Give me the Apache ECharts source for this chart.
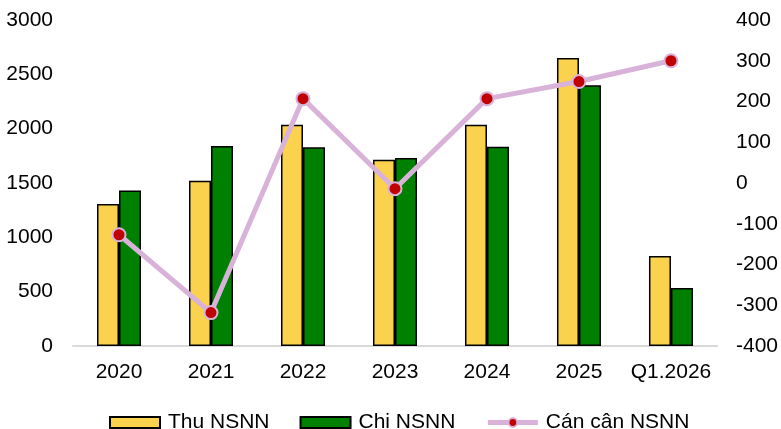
<!DOCTYPE html>
<html>
<head>
<meta charset="utf-8">
<script src="https://cdn.jsdelivr.net/npm/echarts@6/dist/echarts.min.js"></script>
<style>
  html, body { margin: 0; padding: 0; background: #fff; }
  #main { width: 781px; height: 429px; }
</style>
</head>
<body>
<div id="main"></div>
<script>
const categories = ['2020', '2021', '2022', '2023', '2024', '2025', 'Q1.2026'];
const thuNSNN = [1307, 1520, 2035, 1715, 2035, 2650, 828];
const chiNSNN = [1432, 1840, 1830, 1730, 1834, 2400, 534];
const canCan = [-127, -318, 207, -14, 207, 249, 300];

const font = 'Liberation Sans, Arial, sans-serif';
const plain = v => String(v);
const chart = echarts.init(document.getElementById('main'));
const option = {
  animation: false,
  textStyle: { fontFamily: font },
  grid: { left: 73, right: 63, top: 20, bottom: 83 },
  legend: {
    top: 407,
    left: 104,
    itemGap: 30,
    itemWidth: 50,
    itemHeight: 11,
    textStyle: { fontSize: 21, color: '#000', fontFamily: font, padding: [0, 0, 0, 3] },
    data: [
      { name: 'Thu NSNN', icon: 'rect' },
      { name: 'Chi NSNN', icon: 'rect' },
      { name: 'Cán cân NSNN', lineStyle: { width: 5, color: '#d8b2d8' } }
    ]
  },
  xAxis: {
    type: 'category',
    data: categories,
    axisLine: { lineStyle: { color: '#d9d9d9', width: 2 } },
    axisTick: { show: false },
    axisLabel: { fontSize: 21, color: '#000', margin: 16, interval: 0, fontFamily: font }
  },
  yAxis: [
    {
      type: 'value', min: 0, max: 3000, interval: 500,
      splitLine: { show: false },
      axisLine: { show: false }, axisTick: { show: false },
      axisLabel: { fontSize: 21, color: '#000', margin: 20, formatter: plain, fontFamily: font }
    },
    {
      type: 'value', min: -400, max: 400, interval: 100,
      splitLine: { show: false },
      axisLine: { show: false }, axisTick: { show: false },
      axisLabel: { fontSize: 21, color: '#000', margin: 19, formatter: plain, fontFamily: font }
    }
  ],
  series: [
    {
      name: 'Thu NSNN', type: 'bar', data: thuNSNN,
      barWidth: 22, barGap: '0%',
      itemStyle: { color: '#fbd24e', borderColor: '#000', borderWidth: 1.5 }
    },
    {
      name: 'Chi NSNN', type: 'bar', data: chiNSNN,
      barWidth: 22, barGap: '0%',
      itemStyle: { color: '#008000', borderColor: '#000', borderWidth: 1.5 }
    },
    {
      name: 'Cán cân NSNN', type: 'line', yAxisIndex: 1, data: canCan,
      symbol: 'circle', symbolSize: 13,
      lineStyle: { color: '#d8b2d8', width: 5 },
      itemStyle: { color: '#c00000', borderColor: '#d8b2d8', borderWidth: 2 },
      z: 5
    }
  ]
};
chart.setOption(option);
</script>
</body>
</html>
